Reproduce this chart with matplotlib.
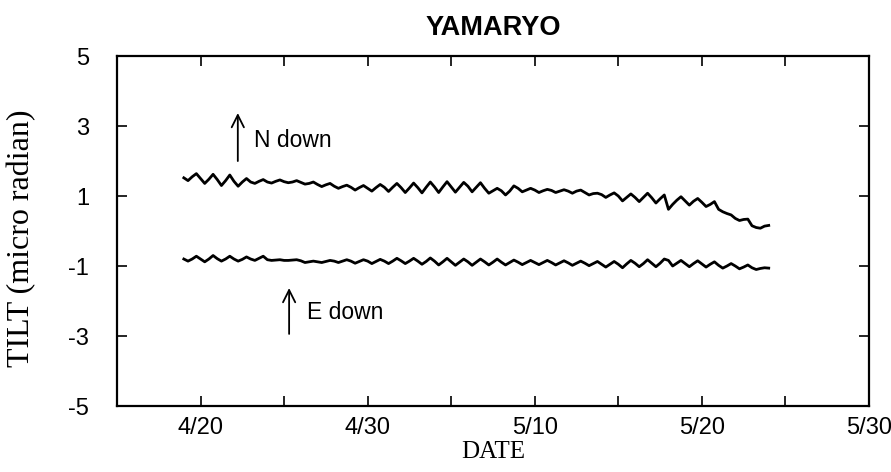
import numpy as np
import matplotlib
matplotlib.use("Agg")
import matplotlib.pyplot as plt

# sample times in days (4/19 = 19, 5/20 = 50), 6-hour spacing
days = np.arange(19.0, 54.01, 0.25)

# N down component (micro radian), one row per day
n_tilt = [
    1.52, 1.44, 1.55, 1.64,
    1.50, 1.36, 1.48, 1.62,
    1.47, 1.30, 1.44, 1.60,
    1.42, 1.28, 1.40, 1.50,
    1.40, 1.36, 1.42, 1.47,
    1.40, 1.37, 1.42, 1.46,
    1.41, 1.38, 1.40, 1.44,
    1.39, 1.34, 1.36, 1.40,
    1.33, 1.27, 1.32, 1.36,
    1.28, 1.22, 1.27, 1.31,
    1.25, 1.17, 1.24, 1.30,
    1.22, 1.14, 1.24, 1.33,
    1.25, 1.13, 1.25, 1.36,
    1.24, 1.10, 1.23, 1.37,
    1.24, 1.09, 1.25, 1.40,
    1.26, 1.10, 1.26, 1.41,
    1.26, 1.11, 1.25, 1.39,
    1.28, 1.12, 1.25, 1.38,
    1.22, 1.08, 1.15, 1.22,
    1.15, 1.03, 1.14, 1.29,
    1.22, 1.12, 1.17, 1.22,
    1.17, 1.10, 1.15, 1.19,
    1.16, 1.10, 1.14, 1.18,
    1.14, 1.08, 1.14, 1.17,
    1.10, 1.03, 1.07, 1.08,
    1.04, 0.96, 1.03, 1.09,
    1.00, 0.86, 0.96, 1.06,
    0.96, 0.84, 0.96, 1.08,
    0.95, 0.80, 0.92, 1.03,
    0.62, 0.76, 0.88, 0.98,
    0.86, 0.74, 0.85, 0.93,
    0.82, 0.70, 0.76, 0.84,
    0.62, 0.55, 0.50, 0.46,
    0.36, 0.30, 0.33, 0.34,
    0.15, 0.10, 0.08, 0.14,
    0.16,
]

# E down component (micro radian)
e_tilt = [
    -0.80, -0.86, -0.80, -0.72,
    -0.80, -0.88, -0.80, -0.70,
    -0.79, -0.86, -0.80, -0.72,
    -0.80, -0.86, -0.81, -0.74,
    -0.80, -0.84, -0.78, -0.72,
    -0.82, -0.84, -0.83, -0.82,
    -0.84, -0.84, -0.83, -0.82,
    -0.85, -0.90, -0.88, -0.86,
    -0.88, -0.90, -0.87, -0.84,
    -0.86, -0.90, -0.86, -0.82,
    -0.86, -0.92, -0.87, -0.82,
    -0.86, -0.93, -0.87, -0.81,
    -0.86, -0.93, -0.86, -0.78,
    -0.85, -0.93, -0.86, -0.78,
    -0.86, -0.95, -0.87, -0.77,
    -0.86, -0.97, -0.88, -0.78,
    -0.88, -0.98, -0.89, -0.80,
    -0.88, -0.98, -0.89, -0.80,
    -0.88, -0.97, -0.89, -0.80,
    -0.89, -0.97, -0.90, -0.83,
    -0.89, -0.96, -0.90, -0.84,
    -0.90, -0.96, -0.90, -0.84,
    -0.90, -0.97, -0.91, -0.85,
    -0.91, -0.98, -0.92, -0.86,
    -0.92, -0.99, -0.93, -0.87,
    -0.95, -1.03, -0.95, -0.87,
    -0.95, -1.05, -0.94, -0.84,
    -0.92, -1.02, -0.93, -0.82,
    -0.92, -1.02, -0.92, -0.80,
    -0.84, -1.00, -0.92, -0.84,
    -0.93, -1.02, -0.93, -0.85,
    -0.94, -1.03, -0.95, -0.88,
    -0.98, -1.06, -1.00, -0.93,
    -1.00, -1.08, -1.03, -0.97,
    -1.05, -1.10, -1.07, -1.05,
    -1.06,
]

x_ticks = [20, 30, 40, 50, 60]
x_labels = ["4/20", "4/30", "5/10", "5/20", "5/30"]
y_ticks = [5, 3, 1, -1, -3, -5]

sans = ["Liberation Sans", "DejaVu Sans"]
serif = ["Liberation Serif", "DejaVu Serif"]

fig = plt.figure(figsize=(8.91, 4.72), dpi=100)
ax = fig.add_axes([0.1313, 0.1398, 0.844, 0.7415])

ax.plot(days, n_tilt, color="black", lw=2.0, solid_joinstyle="round")
ax.plot(days, e_tilt, color="black", lw=2.0, solid_joinstyle="round")

ax.set_xlim(15, 60)
ax.set_ylim(-5, 5)
ax.set_xticks(x_ticks)
ax.set_xticklabels(x_labels, family=sans, fontsize=17)
ax.set_xticks([25, 35, 45, 55], minor=True)
ax.set_yticks(y_ticks)
ax.set_yticklabels([str(v) for v in y_ticks], family=sans, fontsize=17)

ax.tick_params(which="both", direction="in", length=7, width=1.2,
               top=True, right=True)
ax.tick_params(axis="x", pad=8)
ax.tick_params(axis="y", pad=20)
for s in ax.spines.values():
    s.set_linewidth(1.6)

ax.set_title("YAMARYO", family=sans, fontsize=19.5, fontweight="bold", pad=15)
ax.set_xlabel("DATE", family=serif, fontsize=18)
ax.xaxis.set_label_coords(0.5, -0.1)
ax.set_ylabel("TILT (micro radian)", family=serif, fontsize=23)
ax.yaxis.set_label_coords(-0.108, 0.48)

# arrows marking the direction of tilt
arw = dict(arrowstyle="->", lw=1.3, color="black", mutation_scale=22)
ax.annotate("", xy=(22.23, 3.45), xytext=(22.23, 1.92), arrowprops=arw)
ax.text(23.2, 2.6, "N down", family=sans, fontsize=16.5, va="center")
ax.annotate("", xy=(25.3, -1.55), xytext=(25.3, -3.02), arrowprops=arw)
ax.text(26.4, -2.34, "E down", family=sans, fontsize=16.5, va="center")

fig.savefig("out.png", dpi=100)
